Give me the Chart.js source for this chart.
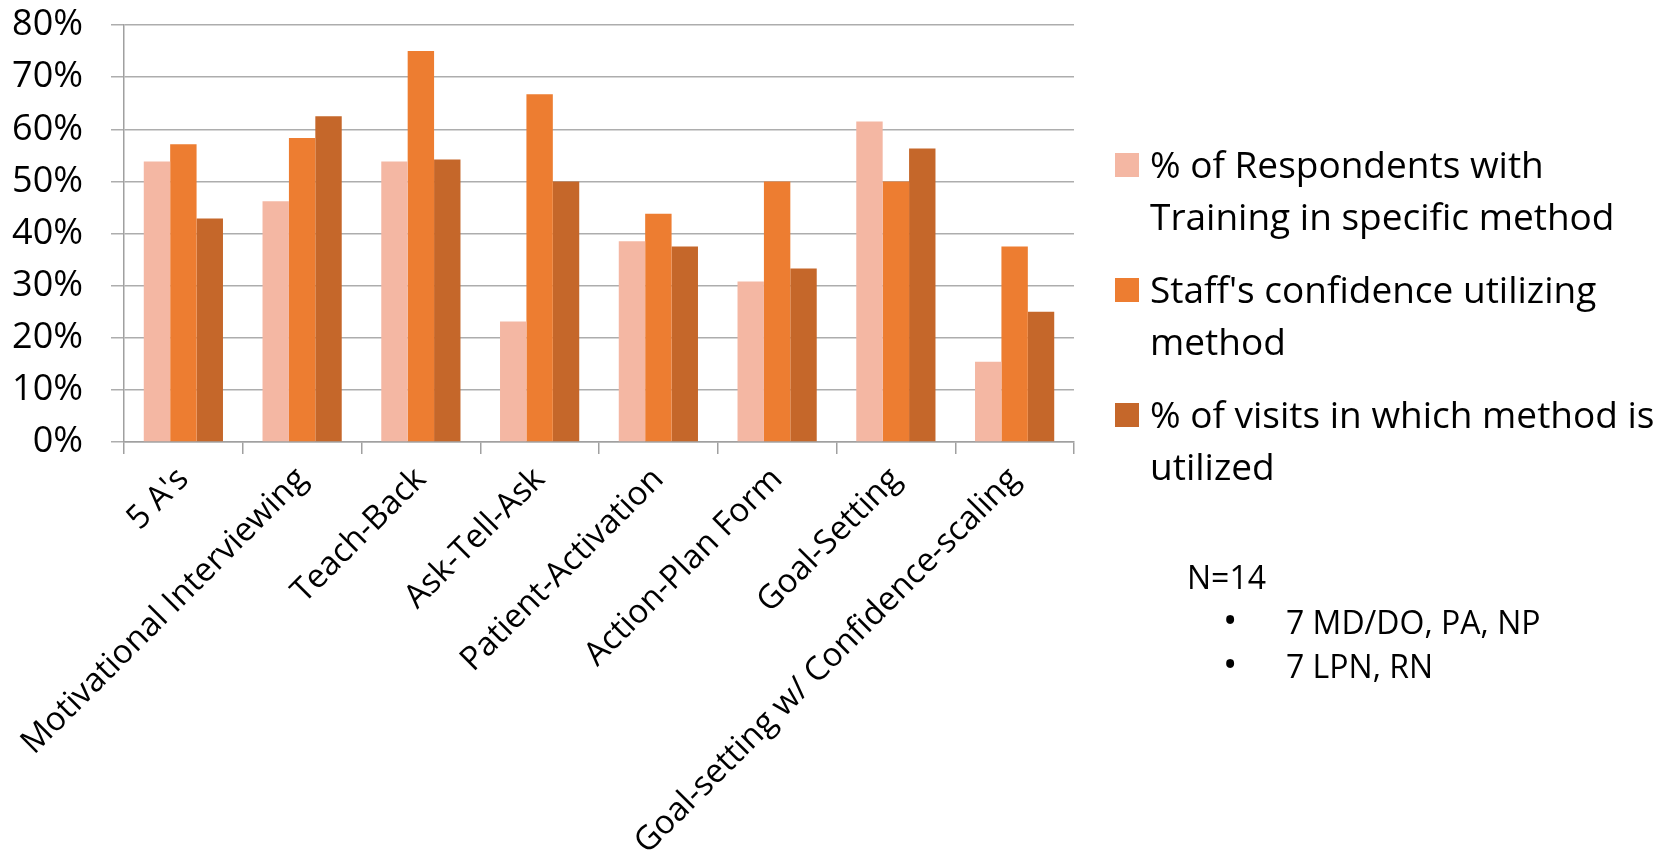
<!DOCTYPE html>
<html>
<head>
<meta charset="utf-8">
<script src="https://cdn.jsdelivr.net/npm/chart.js@4"></script>
<style>
  html, body { margin: 0; padding: 0; background: #fff; }
  #wrap { position: relative; width: 1671px; height: 862px; }
  #chart { position: absolute; left: 0; top: 0; }
  .legend { position: absolute; left: 1115px; top: 0; font-family: "Open Sans", sans-serif; font-size: 37px; color: #000; }
  .item { position: absolute; left: 0; width: 556px; }
  .box { position: absolute; left: 0; width: 24px; height: 24px; }
  .txt { position: absolute; left: 35px; line-height: 52px; white-space: nowrap; }
  .note { position: absolute; left: 0; top: 0; font-family: "Open Sans", sans-serif; font-size: 32px; color: #000; }
  .note div { position: absolute; white-space: nowrap; line-height: 40px; }
  .note .dot { font-size: 38px; }
</style>
</head>
<body>
<div id="wrap">
  <canvas id="chart" width="1671" height="862"></canvas>
  <div class="legend" id="legend"></div>
  <div class="note">
    <div style="left:1187px;top:557px">N=14</div>
    <div class="dot" style="left:1223px;top:599px">•</div>
    <div style="left:1286px;top:602px">7 MD/DO, PA, NP</div>
    <div class="dot" style="left:1223px;top:643px">•</div>
    <div style="left:1286px;top:646px">7 LPN, RN</div>
  </div>
</div>
<script>
  let metodos = ["5 A's", "Motivational Interviewing", "Teach-Back", "Ask-Tell-Ask",
                 "Patient-Activation", "Action-Plan Form", "Goal-Setting",
                 "Goal-setting w/ Confidence-scaling"];
  let entrenados = [53.8, 46.2, 53.8, 23.1, 38.5, 30.8, 61.5, 15.4];
  let confianza = [57.1, 58.3, 75.0, 66.7, 43.8, 50.0, 50.0, 37.5];
  let utilizado = [42.9, 62.5, 54.2, 50.0, 37.5, 33.3, 56.3, 25.0];
  let series = [
      ["% of Respondents with", "Training in specific method"],
      ["Staff's confidence utilizing", "method"],
      ["% of visits in which method is", "utilized"]
  ];
  let colores = ["#F4B7A3", "#ED7D31", "#C5672A"];
  let yMax = 80;
  let yStep = 10;

  // leyenda a mano, el texto va en dos lineas
  let legend = document.getElementById("legend");
  let tops = [150, 275, 400];
  series.forEach(function (s, i) {
      let item = document.createElement("div");
      item.className = "item";
      item.style.top = tops[i] + "px";
      item.innerHTML = '<div class="box" style="top:3px;background:' + colores[i] + '"></div>' +
                       '<div class="txt" style="top:-12px">' + s.join("<br>") + '</div>';
      legend.appendChild(item);
  });

  let ctx = document.getElementById("chart").getContext("2d");

  new Chart(ctx, {
      type: "bar",
      data: {
          labels: metodos,
          datasets: [
              { label: series[0].join(" "), data: entrenados, backgroundColor: colores[0] },
              { label: series[1].join(" "), data: confianza, backgroundColor: colores[1] },
              { label: series[2].join(" "), data: utilizado, backgroundColor: colores[2] }
          ]
      },
      options: {
          responsive: false,
          animation: false,
          layout: { padding: { top: 0, right: 597, left: 0, bottom: 0 } },
          datasets: { bar: { barPercentage: 1, categoryPercentage: 0.667 } },
          plugins: {
              legend: { display: false },
              tooltip: { enabled: false }
          },
          scales: {
              x: {
                  grid: { drawOnChartArea: false, drawTicks: true, tickLength: 12, color: "#A0A0A0", lineWidth: 1.5 },
                  border: { color: "#A0A0A0", width: 1.5 },
                  ticks: {
                      autoSkip: false, minRotation: 45, maxRotation: 45, padding: 6,
                      color: "#000", font: { family: "Open Sans", size: 33 }
                  },
                  afterFit: function (scale) { scale.height = 420; }
              },
              y: {
                  min: 0, max: yMax,
                  grid: { color: "#ADADAD", lineWidth: 1.5, tickLength: 13 },
                  border: { color: "#A0A0A0", width: 1.5 },
                  ticks: {
                      stepSize: yStep, padding: 28, color: "#000",
                      font: { family: "Open Sans", size: 36 },
                      callback: function (v) { return v + "%"; }
                  },
                  afterFit: function (scale) {
                      scale.width = 124;
                      scale.paddingTop = 25;
                      scale.paddingBottom = 0;
                  }
              }
          }
      }
  });
</script>
</body>
</html>
